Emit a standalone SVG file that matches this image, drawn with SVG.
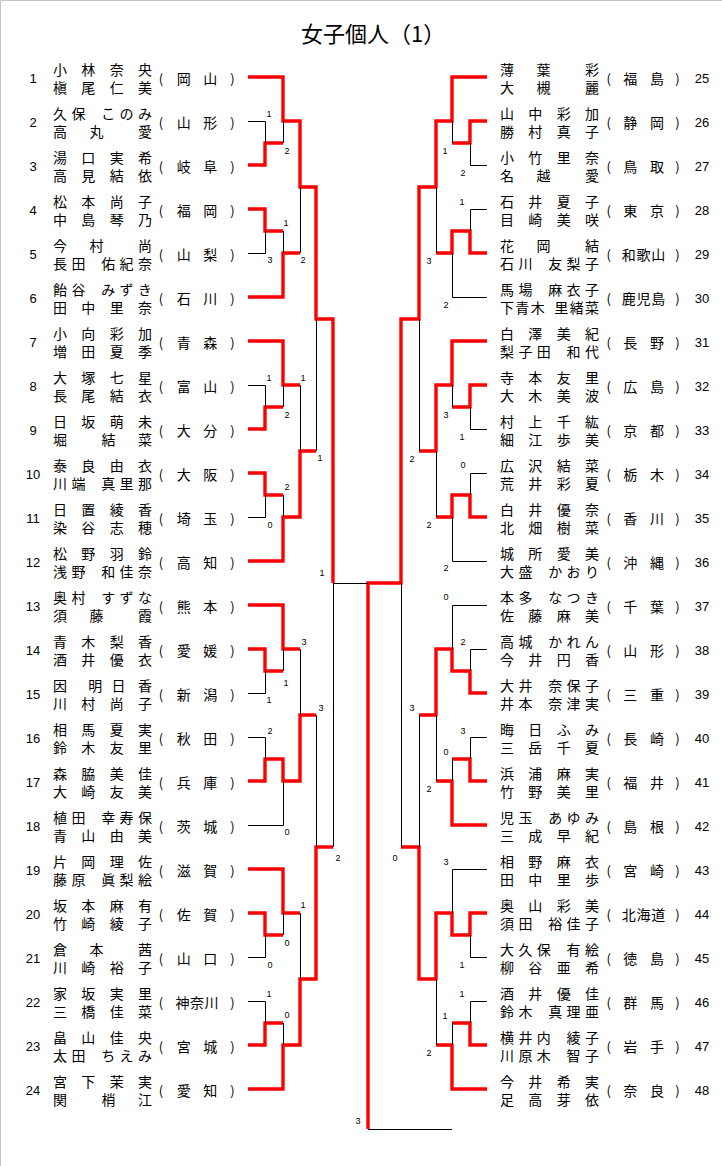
<svg xmlns="http://www.w3.org/2000/svg" width="722" height="1166" viewBox="0 0 722 1166">
<style>
.n{font-family:"Noto Sans CJK JP","Noto Sans CJK SC",sans-serif;font-size:14px;fill:#000}
.pa{font-family:"Noto Sans CJK JP",sans-serif;font-size:13px;fill:#000;text-anchor:middle}
.num{font-family:"Liberation Sans",sans-serif;font-size:13px;fill:#000;text-anchor:middle}
.s{font-family:"Liberation Sans",sans-serif;font-size:9px;fill:#000;text-anchor:middle}
.r{fill:none;stroke:#f00;stroke-width:3.4;stroke-linejoin:miter}
.k{fill:none;stroke:#000;stroke-width:1}
.t{font-family:"Noto Sans CJK JP",sans-serif;font-size:22px;fill:#000}
</style>
<rect width="722" height="1166" fill="#fff"/>
<path d="M0.5,1166V0.5H722" fill="none" stroke="#c4c4c4"/>
<text class="t" x="301" y="41.5">女子個人（1）</text>

<g id="connectors">
<g id="red">
<path class="r" d="M248,77H283V121H300V187H316V319H333V583"/>
<path class="r" d="M248,165H265V143H283"/>
<path class="r" d="M248,209H265V231H283"/>
<path class="r" d="M248,297H283V253H300"/>
<path class="r" d="M248,341H283V385H300"/>
<path class="r" d="M248,429H265V407H283"/>
<path class="r" d="M248,473H265V495H283"/>
<path class="r" d="M248,561H283V517H300V451H316"/>
<path class="r" d="M248,605H283V649H300"/>
<path class="r" d="M248,649H265V671H283"/>
<path class="r" d="M248,781H265V759H283V781H300V715H316"/>
<path class="r" d="M248,869H283V913H300"/>
<path class="r" d="M248,913H265V935H283"/>
<path class="r" d="M248,1045H265V1023H283"/>
<path class="r" d="M248,1089H283V1045H300V979H316V847H333"/>
<path class="r" d="M487,77H452V121H436V187H419V319H401V583H368V1129"/>
<path class="r" d="M487,121H470V143H452"/>
<path class="r" d="M487,253H470V231H452V253H436"/>
<path class="r" d="M487,341H452V385H436V451H419"/>
<path class="r" d="M487,385H470V407H452"/>
<path class="r" d="M487,517H470V495H452V517H436"/>
<path class="r" d="M487,693H470V671H452V649H436V715H419"/>
<path class="r" d="M487,781H470V759H452"/>
<path class="r" d="M487,825H452V781H436"/>
<path class="r" d="M487,913H470V935H452V913H436V979H419V847H401"/>
<path class="r" d="M487,1045H470V1023H452"/>
<path class="r" d="M487,1089H452V1045H436"/>
</g>
<g id="black">
<path class="k" d="M248,121.5H265.5V143M283.5,121V143M248,253.5H265.5V231M283.5,231V253M300.5,187V253M248,385.5H265.5V407M283.5,385V407M248,517.5H265.5V495M283.5,495V517M300.5,385V451M316.5,319V451M248,693.5H265.5V671M283.5,649V671M300.5,649V715M248,737.5H265.5V759M248,825.5H283.5V781M316.5,715V847M248,957.5H265.5V935M283.5,913V935M248,1001.5H265.5V1023M283.5,1023V1045M300.5,913V979M333.5,583V847M333,583.5H368"/>
<path class="k" d="M487,165.5H470.5V143M452.5,121V143M487,209.5H470.5V231M487,297.5H452.5V253M436.5,187V253M487,429.5H470.5V407M452.5,385V407M487,473.5H470.5V495M487,561.5H452.5V517M436.5,451V517M419.5,319V451M487,605.5H452.5V649M487,649.5H470.5V671M487,737.5H470.5V759M452.5,759V781M436.5,715V781M419.5,715V847M487,869.5H452.5V913M487,957.5H470.5V935M487,1001.5H470.5V1023M452.5,1023V1045M436.5,979V1045M401.5,583V847M368,1129.5H452"/>
</g>
<g id="scores">
<text class="s" x="269" y="117">1</text>
<text class="s" x="287" y="154">2</text>
<text class="s" x="286" y="226">1</text>
<text class="s" x="270" y="263">3</text>
<text class="s" x="303" y="263">2</text>
<text class="s" x="269" y="381">1</text>
<text class="s" x="303" y="381">1</text>
<text class="s" x="287" y="418">2</text>
<text class="s" x="320" y="461">1</text>
<text class="s" x="287" y="490">2</text>
<text class="s" x="270" y="528">0</text>
<text class="s" x="322" y="576">1</text>
<text class="s" x="304" y="645">3</text>
<text class="s" x="286" y="686">1</text>
<text class="s" x="269" y="703">1</text>
<text class="s" x="321" y="711">3</text>
<text class="s" x="270" y="734">2</text>
<text class="s" x="287" y="835">0</text>
<text class="s" x="338" y="861">2</text>
<text class="s" x="303" y="908">1</text>
<text class="s" x="287" y="946">0</text>
<text class="s" x="270" y="968">0</text>
<text class="s" x="269" y="997">1</text>
<text class="s" x="287" y="1018">0</text>
<text class="s" x="358" y="1124">3</text>
<text class="s" x="445" y="154">1</text>
<text class="s" x="463" y="176">2</text>
<text class="s" x="462" y="205">1</text>
<text class="s" x="429" y="264">3</text>
<text class="s" x="446" y="308">2</text>
<text class="s" x="446" y="418">3</text>
<text class="s" x="462" y="440">1</text>
<text class="s" x="412" y="462">2</text>
<text class="s" x="463" y="468">0</text>
<text class="s" x="429" y="528">2</text>
<text class="s" x="446" y="571">2</text>
<text class="s" x="446" y="600">0</text>
<text class="s" x="463" y="645">2</text>
<text class="s" x="412" y="711">3</text>
<text class="s" x="463" y="734">3</text>
<text class="s" x="446" y="755">0</text>
<text class="s" x="429" y="792">2</text>
<text class="s" x="395" y="861">0</text>
<text class="s" x="446" y="865">3</text>
<text class="s" x="462" y="968">1</text>
<text class="s" x="462" y="997">1</text>
<text class="s" x="445" y="1019">1</text>
<text class="s" x="429" y="1056">2</text>
</g>
</g>

<g id="entries-left">
<g id="p1" transform="translate(0,77)"><text class="num" x="33" y="6.2">1</text><text class="n" x="53 81.3 109.7 138" y="-2.5">小林奈央</text><text class="n" x="53 81.3 109.7 138" y="16.3">槇尾仁美</text><text class="pa" x="161" y="6.5">(</text><text class="n" x="176.7 203.3" y="7.2">岡山</text><text class="pa" x="232.5" y="6.5">)</text></g>
<g id="p2" transform="translate(0,121)"><text class="num" x="33" y="6.2">2</text><text class="n" x="53 71.4 101.2 119.6 138" y="-2.5">久保このみ</text><text class="n" x="53 89.5 138" y="16.3">高丸愛</text><text class="pa" x="161" y="6.5">(</text><text class="n" x="176.7 203.3" y="7.2">山形</text><text class="pa" x="232.5" y="6.5">)</text></g>
<g id="p3" transform="translate(0,165)"><text class="num" x="33" y="6.2">3</text><text class="n" x="53 81.3 109.7 138" y="-2.5">湯口実希</text><text class="n" x="53 81.3 109.7 138" y="16.3">高見結依</text><text class="pa" x="161" y="6.5">(</text><text class="n" x="176.7 203.3" y="7.2">岐阜</text><text class="pa" x="232.5" y="6.5">)</text></g>
<g id="p4" transform="translate(0,209)"><text class="num" x="33" y="6.2">4</text><text class="n" x="53 81.3 109.7 138" y="-2.5">松本尚子</text><text class="n" x="53 81.3 109.7 138" y="16.3">中島琴乃</text><text class="pa" x="161" y="6.5">(</text><text class="n" x="176.7 203.3" y="7.2">福岡</text><text class="pa" x="232.5" y="6.5">)</text></g>
<g id="p5" transform="translate(0,253)"><text class="num" x="33" y="6.2">5</text><text class="n" x="53 89.5 138" y="-2.5">今村尚</text><text class="n" x="53 71.4 101.2 119.6 138" y="16.3">長田佑紀奈</text><text class="pa" x="161" y="6.5">(</text><text class="n" x="176.7 203.3" y="7.2">山梨</text><text class="pa" x="232.5" y="6.5">)</text></g>
<g id="p6" transform="translate(0,297)"><text class="num" x="33" y="6.2">6</text><text class="n" x="53 71.4 101.2 119.6 138" y="-2.5">飴谷みずき</text><text class="n" x="53 81.3 109.7 138" y="16.3">田中里奈</text><text class="pa" x="161" y="6.5">(</text><text class="n" x="176.7 203.3" y="7.2">石川</text><text class="pa" x="232.5" y="6.5">)</text></g>
<g id="p7" transform="translate(0,341)"><text class="num" x="33" y="6.2">7</text><text class="n" x="53 81.3 109.7 138" y="-2.5">小向彩加</text><text class="n" x="53 81.3 109.7 138" y="16.3">増田夏季</text><text class="pa" x="161" y="6.5">(</text><text class="n" x="176.7 203.3" y="7.2">青森</text><text class="pa" x="232.5" y="6.5">)</text></g>
<g id="p8" transform="translate(0,385)"><text class="num" x="33" y="6.2">8</text><text class="n" x="53 81.3 109.7 138" y="-2.5">大塚七星</text><text class="n" x="53 81.3 109.7 138" y="16.3">長尾結衣</text><text class="pa" x="161" y="6.5">(</text><text class="n" x="176.7 203.3" y="7.2">富山</text><text class="pa" x="232.5" y="6.5">)</text></g>
<g id="p9" transform="translate(0,429)"><text class="num" x="33" y="6.2">9</text><text class="n" x="53 81.3 109.7 138" y="-2.5">日坂萌未</text><text class="n" x="53 101.5 138" y="16.3">堀結菜</text><text class="pa" x="161" y="6.5">(</text><text class="n" x="176.7 203.3" y="7.2">大分</text><text class="pa" x="232.5" y="6.5">)</text></g>
<g id="p10" transform="translate(0,473)"><text class="num" x="33" y="6.2">10</text><text class="n" x="53 81.3 109.7 138" y="-2.5">泰良由衣</text><text class="n" x="53 71.4 101.2 119.6 138" y="16.3">川端真里那</text><text class="pa" x="161" y="6.5">(</text><text class="n" x="176.7 203.3" y="7.2">大阪</text><text class="pa" x="232.5" y="6.5">)</text></g>
<g id="p11" transform="translate(0,517)"><text class="num" x="33" y="6.2">11</text><text class="n" x="53 81.3 109.7 138" y="-2.5">日置綾香</text><text class="n" x="53 81.3 109.7 138" y="16.3">染谷志穂</text><text class="pa" x="161" y="6.5">(</text><text class="n" x="176.7 203.3" y="7.2">埼玉</text><text class="pa" x="232.5" y="6.5">)</text></g>
<g id="p12" transform="translate(0,561)"><text class="num" x="33" y="6.2">12</text><text class="n" x="53 81.3 109.7 138" y="-2.5">松野羽鈴</text><text class="n" x="53 71.4 101.2 119.6 138" y="16.3">浅野和佳奈</text><text class="pa" x="161" y="6.5">(</text><text class="n" x="176.7 203.3" y="7.2">高知</text><text class="pa" x="232.5" y="6.5">)</text></g>
<g id="p13" transform="translate(0,605)"><text class="num" x="33" y="6.2">13</text><text class="n" x="53 71.4 101.2 119.6 138" y="-2.5">奥村すずな</text><text class="n" x="53 89.5 138" y="16.3">須藤霞</text><text class="pa" x="161" y="6.5">(</text><text class="n" x="176.7 203.3" y="7.2">熊本</text><text class="pa" x="232.5" y="6.5">)</text></g>
<g id="p14" transform="translate(0,649)"><text class="num" x="33" y="6.2">14</text><text class="n" x="53 81.3 109.7 138" y="-2.5">青木梨香</text><text class="n" x="53 81.3 109.7 138" y="16.3">酒井優衣</text><text class="pa" x="161" y="6.5">(</text><text class="n" x="176.7 203.3" y="7.2">愛媛</text><text class="pa" x="232.5" y="6.5">)</text></g>
<g id="p15" transform="translate(0,693)"><text class="num" x="33" y="6.2">15</text><text class="n" x="53 88.3 111.5 138" y="-2.5">因明日香</text><text class="n" x="53 81.3 109.7 138" y="16.3">川村尚子</text><text class="pa" x="161" y="6.5">(</text><text class="n" x="176.7 203.3" y="7.2">新潟</text><text class="pa" x="232.5" y="6.5">)</text></g>
<g id="p16" transform="translate(0,737)"><text class="num" x="33" y="6.2">16</text><text class="n" x="53 81.3 109.7 138" y="-2.5">相馬夏実</text><text class="n" x="53 81.3 109.7 138" y="16.3">鈴木友里</text><text class="pa" x="161" y="6.5">(</text><text class="n" x="176.7 203.3" y="7.2">秋田</text><text class="pa" x="232.5" y="6.5">)</text></g>
<g id="p17" transform="translate(0,781)"><text class="num" x="33" y="6.2">17</text><text class="n" x="53 81.3 109.7 138" y="-2.5">森脇美佳</text><text class="n" x="53 81.3 109.7 138" y="16.3">大崎友美</text><text class="pa" x="161" y="6.5">(</text><text class="n" x="176.7 203.3" y="7.2">兵庫</text><text class="pa" x="232.5" y="6.5">)</text></g>
<g id="p18" transform="translate(0,825)"><text class="num" x="33" y="6.2">18</text><text class="n" x="53 71.4 101.2 119.6 138" y="-2.5">植田幸寿保</text><text class="n" x="53 81.3 109.7 138" y="16.3">青山由美</text><text class="pa" x="161" y="6.5">(</text><text class="n" x="176.7 203.3" y="7.2">茨城</text><text class="pa" x="232.5" y="6.5">)</text></g>
<g id="p19" transform="translate(0,869)"><text class="num" x="33" y="6.2">19</text><text class="n" x="53 81.3 109.7 138" y="-2.5">片岡理佐</text><text class="n" x="53 71.4 101.2 119.6 138" y="16.3">藤原眞梨絵</text><text class="pa" x="161" y="6.5">(</text><text class="n" x="176.7 203.3" y="7.2">滋賀</text><text class="pa" x="232.5" y="6.5">)</text></g>
<g id="p20" transform="translate(0,913)"><text class="num" x="33" y="6.2">20</text><text class="n" x="53 81.3 109.7 138" y="-2.5">坂本麻有</text><text class="n" x="53 81.3 109.7 138" y="16.3">竹崎綾子</text><text class="pa" x="161" y="6.5">(</text><text class="n" x="176.7 203.3" y="7.2">佐賀</text><text class="pa" x="232.5" y="6.5">)</text></g>
<g id="p21" transform="translate(0,957)"><text class="num" x="33" y="6.2">21</text><text class="n" x="53 89.5 138" y="-2.5">倉本茜</text><text class="n" x="53 81.3 109.7 138" y="16.3">川崎裕子</text><text class="pa" x="161" y="6.5">(</text><text class="n" x="176.7 203.3" y="7.2">山口</text><text class="pa" x="232.5" y="6.5">)</text></g>
<g id="p22" transform="translate(0,1001)"><text class="num" x="33" y="6.2">22</text><text class="n" x="53 81.3 109.7 138" y="-2.5">家坂実里</text><text class="n" x="53 81.3 109.7 138" y="16.3">三橋佳菜</text><text class="pa" x="161" y="6.5">(</text><text class="n" x="175.5 190 204.5" y="7.2">神奈川</text><text class="pa" x="232.5" y="6.5">)</text></g>
<g id="p23" transform="translate(0,1045)"><text class="num" x="33" y="6.2">23</text><text class="n" x="53 81.3 109.7 138" y="-2.5">畠山佳央</text><text class="n" x="53 71.4 101.2 119.6 138" y="16.3">太田ちえみ</text><text class="pa" x="161" y="6.5">(</text><text class="n" x="176.7 203.3" y="7.2">宮城</text><text class="pa" x="232.5" y="6.5">)</text></g>
<g id="p24" transform="translate(0,1089)"><text class="num" x="33" y="6.2">24</text><text class="n" x="53 81.3 109.7 138" y="-2.5">宮下茉実</text><text class="n" x="53 101.5 138" y="16.3">関梢江</text><text class="pa" x="161" y="6.5">(</text><text class="n" x="176.7 203.3" y="7.2">愛知</text><text class="pa" x="232.5" y="6.5">)</text></g>
</g>

<g id="entries-right">
<g id="p25" transform="translate(0,77)"><text class="n" x="500 536.5 585" y="-2.5">薄葉彩</text><text class="n" x="500 536.5 585" y="16.3">大槻麗</text><text class="pa" x="608.7" y="6.5">(</text><text class="n" x="623.3 650" y="7.2">福島</text><text class="pa" x="677.5" y="6.5">)</text><text class="num" x="702" y="6.2">25</text></g>
<g id="p26" transform="translate(0,121)"><text class="n" x="500 528.3 556.7 585" y="-2.5">山中彩加</text><text class="n" x="500 528.3 556.7 585" y="16.3">勝村真子</text><text class="pa" x="608.7" y="6.5">(</text><text class="n" x="623.3 650" y="7.2">静岡</text><text class="pa" x="677.5" y="6.5">)</text><text class="num" x="702" y="6.2">26</text></g>
<g id="p27" transform="translate(0,165)"><text class="n" x="500 528.3 556.7 585" y="-2.5">小竹里奈</text><text class="n" x="500 536.5 585" y="16.3">名越愛</text><text class="pa" x="608.7" y="6.5">(</text><text class="n" x="623.3 650" y="7.2">鳥取</text><text class="pa" x="677.5" y="6.5">)</text><text class="num" x="702" y="6.2">27</text></g>
<g id="p28" transform="translate(0,209)"><text class="n" x="500 528.3 556.7 585" y="-2.5">石井夏子</text><text class="n" x="500 528.3 556.7 585" y="16.3">目崎美咲</text><text class="pa" x="608.7" y="6.5">(</text><text class="n" x="623.3 650" y="7.2">東京</text><text class="pa" x="677.5" y="6.5">)</text><text class="num" x="702" y="6.2">28</text></g>
<g id="p29" transform="translate(0,253)"><text class="n" x="500 536.5 585" y="-2.5">花岡結</text><text class="n" x="500 518.4 548.2 566.6 585" y="16.3">石川友梨子</text><text class="pa" x="608.7" y="6.5">(</text><text class="n" x="621.7 636.5 651.3" y="7.2">和歌山</text><text class="pa" x="677.5" y="6.5">)</text><text class="num" x="702" y="6.2">29</text></g>
<g id="p30" transform="translate(0,297)"><text class="n" x="500 518.4 548.2 566.6 585" y="-2.5">馬場麻衣子</text><text class="n" x="500 515.3 530.7 554.3 569.7 585" y="16.3">下青木里緒菜</text><text class="pa" x="608.7" y="6.5">(</text><text class="n" x="621.7 636.5 651.3" y="7.2">鹿児島</text><text class="pa" x="677.5" y="6.5">)</text><text class="num" x="702" y="6.2">30</text></g>
<g id="p31" transform="translate(0,341)"><text class="n" x="500 528.3 556.7 585" y="-2.5">白澤美紀</text><text class="n" x="500 518.4 536.8 566.6 585" y="16.3">梨子田和代</text><text class="pa" x="608.7" y="6.5">(</text><text class="n" x="623.3 650" y="7.2">長野</text><text class="pa" x="677.5" y="6.5">)</text><text class="num" x="702" y="6.2">31</text></g>
<g id="p32" transform="translate(0,385)"><text class="n" x="500 528.3 556.7 585" y="-2.5">寺本友里</text><text class="n" x="500 528.3 556.7 585" y="16.3">大木美波</text><text class="pa" x="608.7" y="6.5">(</text><text class="n" x="623.3 650" y="7.2">広島</text><text class="pa" x="677.5" y="6.5">)</text><text class="num" x="702" y="6.2">32</text></g>
<g id="p33" transform="translate(0,429)"><text class="n" x="500 528.3 556.7 585" y="-2.5">村上千紘</text><text class="n" x="500 528.3 556.7 585" y="16.3">細江歩美</text><text class="pa" x="608.7" y="6.5">(</text><text class="n" x="623.3 650" y="7.2">京都</text><text class="pa" x="677.5" y="6.5">)</text><text class="num" x="702" y="6.2">33</text></g>
<g id="p34" transform="translate(0,473)"><text class="n" x="500 528.3 556.7 585" y="-2.5">広沢結菜</text><text class="n" x="500 528.3 556.7 585" y="16.3">荒井彩夏</text><text class="pa" x="608.7" y="6.5">(</text><text class="n" x="623.3 650" y="7.2">栃木</text><text class="pa" x="677.5" y="6.5">)</text><text class="num" x="702" y="6.2">34</text></g>
<g id="p35" transform="translate(0,517)"><text class="n" x="500 528.3 556.7 585" y="-2.5">白井優奈</text><text class="n" x="500 528.3 556.7 585" y="16.3">北畑樹菜</text><text class="pa" x="608.7" y="6.5">(</text><text class="n" x="623.3 650" y="7.2">香川</text><text class="pa" x="677.5" y="6.5">)</text><text class="num" x="702" y="6.2">35</text></g>
<g id="p36" transform="translate(0,561)"><text class="n" x="500 528.3 556.7 585" y="-2.5">城所愛美</text><text class="n" x="500 518.4 548.2 566.6 585" y="16.3">大盛かおり</text><text class="pa" x="608.7" y="6.5">(</text><text class="n" x="623.3 650" y="7.2">沖縄</text><text class="pa" x="677.5" y="6.5">)</text><text class="num" x="702" y="6.2">36</text></g>
<g id="p37" transform="translate(0,605)"><text class="n" x="500 518.4 548.2 566.6 585" y="-2.5">本多なつき</text><text class="n" x="500 528.3 556.7 585" y="16.3">佐藤麻美</text><text class="pa" x="608.7" y="6.5">(</text><text class="n" x="623.3 650" y="7.2">千葉</text><text class="pa" x="677.5" y="6.5">)</text><text class="num" x="702" y="6.2">37</text></g>
<g id="p38" transform="translate(0,649)"><text class="n" x="500 518.4 548.2 566.6 585" y="-2.5">高城かれん</text><text class="n" x="500 528.3 556.7 585" y="16.3">今井円香</text><text class="pa" x="608.7" y="6.5">(</text><text class="n" x="623.3 650" y="7.2">山形</text><text class="pa" x="677.5" y="6.5">)</text><text class="num" x="702" y="6.2">38</text></g>
<g id="p39" transform="translate(0,693)"><text class="n" x="500 518.4 548.2 566.6 585" y="-2.5">大井奈保子</text><text class="n" x="500 518.4 548.2 566.6 585" y="16.3">井本奈津実</text><text class="pa" x="608.7" y="6.5">(</text><text class="n" x="623.3 650" y="7.2">三重</text><text class="pa" x="677.5" y="6.5">)</text><text class="num" x="702" y="6.2">39</text></g>
<g id="p40" transform="translate(0,737)"><text class="n" x="500 528.3 556.7 585" y="-2.5">晦日ふみ</text><text class="n" x="500 528.3 556.7 585" y="16.3">三岳千夏</text><text class="pa" x="608.7" y="6.5">(</text><text class="n" x="623.3 650" y="7.2">長崎</text><text class="pa" x="677.5" y="6.5">)</text><text class="num" x="702" y="6.2">40</text></g>
<g id="p41" transform="translate(0,781)"><text class="n" x="500 528.3 556.7 585" y="-2.5">浜浦麻実</text><text class="n" x="500 528.3 556.7 585" y="16.3">竹野美里</text><text class="pa" x="608.7" y="6.5">(</text><text class="n" x="623.3 650" y="7.2">福井</text><text class="pa" x="677.5" y="6.5">)</text><text class="num" x="702" y="6.2">41</text></g>
<g id="p42" transform="translate(0,825)"><text class="n" x="500 518.4 548.2 566.6 585" y="-2.5">児玉あゆみ</text><text class="n" x="500 528.3 556.7 585" y="16.3">三成早紀</text><text class="pa" x="608.7" y="6.5">(</text><text class="n" x="623.3 650" y="7.2">島根</text><text class="pa" x="677.5" y="6.5">)</text><text class="num" x="702" y="6.2">42</text></g>
<g id="p43" transform="translate(0,869)"><text class="n" x="500 528.3 556.7 585" y="-2.5">相野麻衣</text><text class="n" x="500 528.3 556.7 585" y="16.3">田中里歩</text><text class="pa" x="608.7" y="6.5">(</text><text class="n" x="623.3 650" y="7.2">宮崎</text><text class="pa" x="677.5" y="6.5">)</text><text class="num" x="702" y="6.2">43</text></g>
<g id="p44" transform="translate(0,913)"><text class="n" x="500 528.3 556.7 585" y="-2.5">奥山彩美</text><text class="n" x="500 518.4 548.2 566.6 585" y="16.3">須田裕佳子</text><text class="pa" x="608.7" y="6.5">(</text><text class="n" x="621.7 636.5 651.3" y="7.2">北海道</text><text class="pa" x="677.5" y="6.5">)</text><text class="num" x="702" y="6.2">44</text></g>
<g id="p45" transform="translate(0,957)"><text class="n" x="500 518.4 536.8 566.6 585" y="-2.5">大久保有絵</text><text class="n" x="500 528.3 556.7 585" y="16.3">柳谷亜希</text><text class="pa" x="608.7" y="6.5">(</text><text class="n" x="623.3 650" y="7.2">徳島</text><text class="pa" x="677.5" y="6.5">)</text><text class="num" x="702" y="6.2">45</text></g>
<g id="p46" transform="translate(0,1001)"><text class="n" x="500 528.3 556.7 585" y="-2.5">酒井優佳</text><text class="n" x="500 518.4 548.2 566.6 585" y="16.3">鈴木真理亜</text><text class="pa" x="608.7" y="6.5">(</text><text class="n" x="623.3 650" y="7.2">群馬</text><text class="pa" x="677.5" y="6.5">)</text><text class="num" x="702" y="6.2">46</text></g>
<g id="p47" transform="translate(0,1045)"><text class="n" x="500 518.4 536.8 566.6 585" y="-2.5">横井内綾子</text><text class="n" x="500 518.4 536.8 566.6 585" y="16.3">川原木智子</text><text class="pa" x="608.7" y="6.5">(</text><text class="n" x="623.3 650" y="7.2">岩手</text><text class="pa" x="677.5" y="6.5">)</text><text class="num" x="702" y="6.2">47</text></g>
<g id="p48" transform="translate(0,1089)"><text class="n" x="500 528.3 556.7 585" y="-2.5">今井希実</text><text class="n" x="500 528.3 556.7 585" y="16.3">足高芽依</text><text class="pa" x="608.7" y="6.5">(</text><text class="n" x="623.3 650" y="7.2">奈良</text><text class="pa" x="677.5" y="6.5">)</text><text class="num" x="702" y="6.2">48</text></g>
</g>
</svg>
